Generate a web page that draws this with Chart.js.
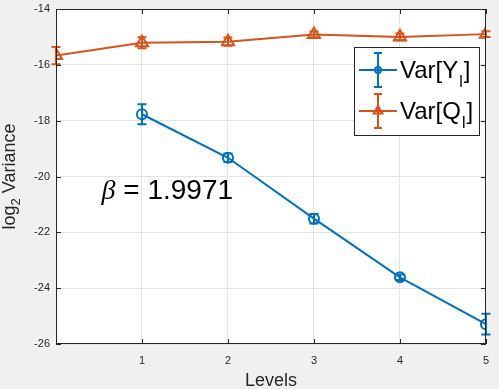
<!DOCTYPE html>
<html>
<head>
<meta charset="utf-8">
<script src="https://cdn.jsdelivr.net/npm/chart.js@4"></script>
<style>
html, body { margin: 0; padding: 0; background: #f0f0f0; }
#wrap { width: 499px; height: 389px; }
</style>
</head>
<body>
<div id="wrap"><canvas id="myChart" width="499" height="389"></canvas></div>
<script>
// data
const levelsQ = [0, 1, 2, 3, 4, 5];
const varQ = [-15.67, -15.21, -15.17, -14.91, -15.0, -14.9];
const errQ = [0.31, 0.2, 0.15, 0.1, 0.12, 0.1];

const levelsY = [1, 2, 3, 4, 5];
const varY = [-17.77, -19.33, -21.51, -23.61, -25.29];
const errY = [0.36, 0.15, 0.17, 0.1, 0.37];

const xTicks = [1, 2, 3, 4, 5];
const yTicks = [-26, -24, -22, -20, -18, -16, -14];

const betaValue = '1.9971';
const betaPos = { x: 0.53, y: -20.8 };

const blue = '#0072BD';
const orange = '#D95319';
const axisColor = '#262626';
const sans = '"Liberation Sans", Arial, sans-serif';

function toPoints(xs, ys) {
  return xs.map((x, i) => ({ x: x, y: ys[i] }));
}

const errBars = [errY, errQ];

// white axes background, box, inward ticks
const axesPlugin = {
  id: 'axesBox',
  beforeDraw(chart) {
    const a = chart.chartArea;
    const c = chart.ctx;
    c.save();
    c.fillStyle = '#ffffff';
    c.fillRect(a.left, a.top, a.right - a.left, a.bottom - a.top);
    c.restore();
  },
  afterDraw(chart) {
    const a = chart.chartArea;
    const c = chart.ctx;
    const sx = chart.scales.x, sy = chart.scales.y;
    c.save();
    c.strokeStyle = axisColor;
    c.lineWidth = 1;
    c.strokeRect(Math.round(a.left) + 0.5, Math.round(a.top) + 0.5,
      Math.round(a.right - a.left) - 1, Math.round(a.bottom - a.top) - 1);
    c.beginPath();
    xTicks.forEach(v => {
      const px = Math.round(sx.getPixelForValue(v)) + 0.5;
      c.moveTo(px, a.bottom); c.lineTo(px, a.bottom - 5);
      c.moveTo(px, a.top); c.lineTo(px, a.top + 5);
    });
    yTicks.forEach(v => {
      const py = Math.round(sy.getPixelForValue(v)) + 0.5;
      c.moveTo(a.left, py); c.lineTo(a.left + 5, py);
      c.moveTo(a.right, py); c.lineTo(a.right - 5, py);
    });
    c.stroke();

    // axis titles
    c.fillStyle = axisColor;
    c.font = '18px ' + sans;
    c.textAlign = 'center';
    c.textBaseline = 'alphabetic';
    c.fillText('Levels', (a.left + a.right) / 2, 386);

    c.save();
    c.translate(15, (a.top + a.bottom) / 2);
    c.rotate(-Math.PI / 2);
    const t1 = 'log', t2 = '2', t3 = ' Variance';
    c.font = '18px ' + sans;
    const w1 = c.measureText(t1).width, w3 = c.measureText(t3).width;
    c.font = '13px ' + sans;
    const w2 = c.measureText(t2).width;
    let x0 = -(w1 + w2 + w3) / 2;
    c.textAlign = 'left';
    c.font = '18px ' + sans;
    c.fillText(t1, x0, 0);
    c.font = '13px ' + sans;
    c.fillText(t2, x0 + w1, 5);
    c.font = '18px ' + sans;
    c.fillText(t3, x0 + w1 + w2, 0);
    c.restore();

    // beta annotation
    const bx = sx.getPixelForValue(betaPos.x);
    const by = sy.getPixelForValue(betaPos.y);
    c.textAlign = 'left';
    c.fillStyle = '#000000';
    c.font = 'italic 28px "Liberation Serif", serif';
    c.fillText('\u03B2', bx, by);
    const bw = c.measureText('\u03B2').width;
    c.font = '28px ' + sans;
    c.fillText(' = ' + betaValue, bx + bw, by);

    drawLegend(c);
    c.restore();
  }
};

function drawMarker(c, style, x, y, r, color) {
  c.strokeStyle = color;
  c.lineWidth = 2;
  c.beginPath();
  if (style === 'circle') {
    c.arc(x, y, r, 0, Math.PI * 2);
  } else {
    c.moveTo(x, y - r);
    c.lineTo(x + r * 0.87, y + r * 0.5);
    c.lineTo(x - r * 0.87, y + r * 0.5);
    c.closePath();
  }
  c.stroke();
}

function drawLegend(c) {
  const box = { x: 354.5, y: 47.5, w: 125, h: 88 };
  c.fillStyle = '#ffffff';
  c.fillRect(box.x, box.y, box.w, box.h);
  c.strokeStyle = '#262626';
  c.lineWidth = 1;
  c.strokeRect(box.x, box.y, box.w, box.h);

  const items = [
    { main: 'Var[Y', color: blue, style: 'circle', cy: 70 },
    { main: 'Var[Q', color: orange, style: 'triangle', cy: 111 }
  ];
  items.forEach(it => {
    c.strokeStyle = it.color;
    c.lineWidth = 2;
    c.beginPath();
    c.moveTo(359, it.cy); c.lineTo(397, it.cy);
    c.moveTo(378, it.cy - 17); c.lineTo(378, it.cy + 17);
    c.moveTo(374, it.cy - 17); c.lineTo(382, it.cy - 17);
    c.moveTo(374, it.cy + 17); c.lineTo(382, it.cy + 17);
    c.stroke();
    drawMarker(c, it.style, 378, it.cy, it.style === 'circle' ? 3 : 5, it.color);

    c.fillStyle = '#000000';
    c.textAlign = 'left';
    c.font = '24px ' + sans;
    let tx = 400;
    const base = it.cy + 8;
    c.fillText(it.main, tx, base);
    tx += c.measureText(it.main).width;
    c.font = '16px ' + sans;
    c.fillText('l', tx + 1, base + 9);
    tx += c.measureText('l').width + 2;
    c.font = '24px ' + sans;
    c.fillText(']', tx, base);
  });
}

// vertical error bars from the err arrays
const errorBarPlugin = {
  id: 'errorBars',
  afterDatasetsDraw(chart) {
    const c = chart.ctx;
    const sx = chart.scales.x, sy = chart.scales.y;
    c.save();
    chart.data.datasets.forEach((ds, i) => {
      const errs = errBars[i];
      c.strokeStyle = ds.borderColor;
      c.lineWidth = 2;
      c.beginPath();
      ds.data.forEach((p, j) => {
        const px = sx.getPixelForValue(p.x);
        const y1 = sy.getPixelForValue(p.y + errs[j]);
        const y2 = sy.getPixelForValue(p.y - errs[j]);
        c.moveTo(px, y1); c.lineTo(px, y2);
        c.moveTo(px - 4.5, y1); c.lineTo(px + 4.5, y1);
        c.moveTo(px - 4.5, y2); c.lineTo(px + 4.5, y2);
      });
      c.stroke();
    });
    c.restore();
  }
};

const ctx = document.getElementById('myChart').getContext('2d');

var myChart = new Chart(ctx, {
  type: 'line',
  data: {
    datasets: [{
      label: 'Var[Y_l]',
      data: toPoints(levelsY, varY),
      borderColor: blue,
      backgroundColor: 'rgba(0,0,0,0)',
      borderWidth: 2,
      pointStyle: 'circle',
      pointRadius: 5,
      pointBorderWidth: 2,
      pointBackgroundColor: 'rgba(0,0,0,0)',
      tension: 0
    }, {
      label: 'Var[Q_l]',
      data: toPoints(levelsQ, varQ),
      borderColor: orange,
      backgroundColor: 'rgba(0,0,0,0)',
      borderWidth: 2,
      pointStyle: 'triangle',
      pointRadius: 7,
      pointBorderWidth: 2,
      pointBackgroundColor: 'rgba(0,0,0,0)',
      tension: 0
    }]
  },
  options: {
    responsive: false,
    animation: false,
    devicePixelRatio: 1,
    layout: { padding: { left: 0, right: 10, top: 4, bottom: 0 } },
    plugins: {
      legend: { display: false },
      tooltip: { enabled: false }
    },
    scales: {
      x: {
        type: 'linear',
        min: 0,
        max: 5,
        afterBuildTicks: s => { s.ticks = xTicks.map(v => ({ value: v })); },
        afterFit: s => { s.height = 45; },
        grid: { color: '#e3e3e3', drawTicks: false },
        border: { display: false },
        ticks: { color: axisColor, font: { family: sans, size: 11 }, padding: 10 }
      },
      y: {
        min: -26,
        max: -14,
        afterBuildTicks: s => { s.ticks = yTicks.map(v => ({ value: v })); },
        afterFit: s => { s.width = 56; },
        grid: { color: '#e3e3e3', drawTicks: true, tickLength: 6, tickColor: 'rgba(0,0,0,0)' },
        border: { display: false },
        ticks: { color: axisColor, font: { family: sans, size: 11, lineHeight: 0.1 }, padding: 0 }
      }
    }
  },
  plugins: [axesPlugin, errorBarPlugin]
});
</script>
</body>
</html>
